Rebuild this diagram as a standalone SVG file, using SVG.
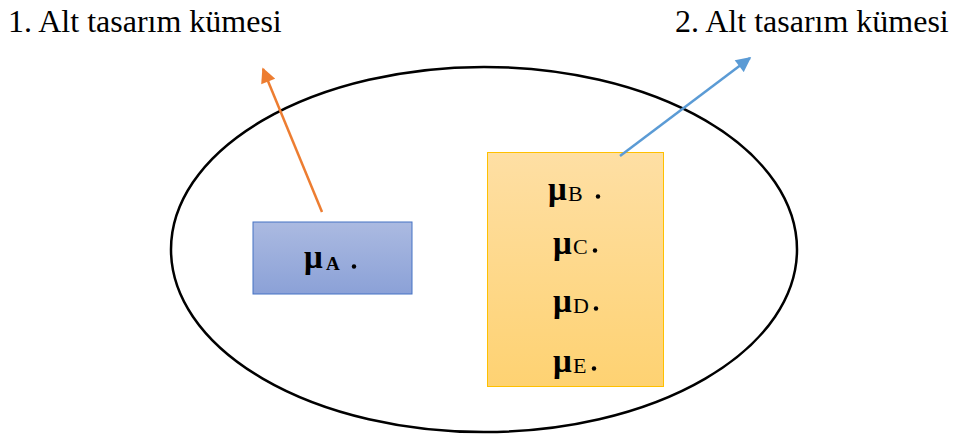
<svg xmlns="http://www.w3.org/2000/svg" width="957" height="434" viewBox="0 0 957 434">
  <style>
    text { font-family: 'Liberation Serif', 'DejaVu Serif', serif; fill: #000; }
    .title { font-size: 32px; }
    .mu { font-size: 33px; font-weight: bold; }
    .sub { font-size: 22px; }
    .subA { font-size: 19px; font-weight: bold; }
    .dot { fill: #000; }
  </style>
  <defs>
    <linearGradient id="blueFill" x1="0" y1="0" x2="0" y2="1">
      <stop offset="0" stop-color="#abbae1"/>
      <stop offset="1" stop-color="#8ba1d7"/>
    </linearGradient>
    <linearGradient id="orangeFill" x1="0" y1="0" x2="0" y2="1">
      <stop offset="0" stop-color="#fedfa4"/>
      <stop offset="1" stop-color="#fed272"/>
    </linearGradient>
    <marker id="arrowOrange" viewBox="0 0 10 10" refX="9" refY="5" markerWidth="6.5" markerHeight="6" markerUnits="strokeWidth" orient="auto">
      <path d="M0,0 L10,5 L0,10 z" fill="#ed7d31"/>
    </marker>
    <marker id="arrowBlue" viewBox="0 0 10 10" refX="9" refY="5" markerWidth="6.5" markerHeight="6" markerUnits="strokeWidth" orient="auto">
      <path d="M0,0 L10,5 L0,10 z" fill="#5b9bd5"/>
    </marker>
  </defs>

  <!-- set labels -->
  <text class="title" x="8" y="32">1. Alt tasarım kümesi</text>
  <text class="title" x="675" y="32">2. Alt tasarım kümesi</text>

  <!-- universe ellipse -->
  <ellipse cx="484" cy="249.5" rx="313" ry="182.5" fill="none" stroke="#000" stroke-width="2.5"/>

  <g id="node-A">
    <rect x="253" y="222" width="159" height="72" fill="url(#blueFill)" stroke="#4472c4" stroke-width="1"/>
    <text class="mu" x="304" y="268">μ</text>
    <text class="subA" x="326" y="270">A</text>
    <circle class="dot" cx="354" cy="266.5" r="2.2"/>
  </g>

  <g id="node-BCDE">
    <rect x="487.5" y="152.5" width="176" height="234" fill="url(#orangeFill)" stroke="#ffc000" stroke-width="1"/>
    <text class="mu" x="548" y="200">μ</text>
    <text class="sub" x="568" y="201">B</text>
    <circle class="dot" cx="598" cy="196.5" r="2.2"/>
    <text class="mu" x="553" y="254">μ</text>
    <text class="sub" x="573" y="254">C</text>
    <circle class="dot" cx="595" cy="250.5" r="2.2"/>
    <text class="mu" x="553" y="312">μ</text>
    <text class="sub" x="573" y="313">D</text>
    <circle class="dot" cx="596" cy="308.5" r="2.2"/>
    <text class="mu" x="553" y="372">μ</text>
    <text class="sub" x="573" y="373">E</text>
    <circle class="dot" cx="594" cy="368.5" r="2.2"/>
  </g>

  <g id="connectors">
    <line x1="322" y1="212" x2="263" y2="69" stroke="#ed7d31" stroke-width="2.5" marker-end="url(#arrowOrange)"/>
    <line x1="620" y1="156" x2="750" y2="58" stroke="#5b9bd5" stroke-width="2.5" marker-end="url(#arrowBlue)"/>
  </g>
</svg>
